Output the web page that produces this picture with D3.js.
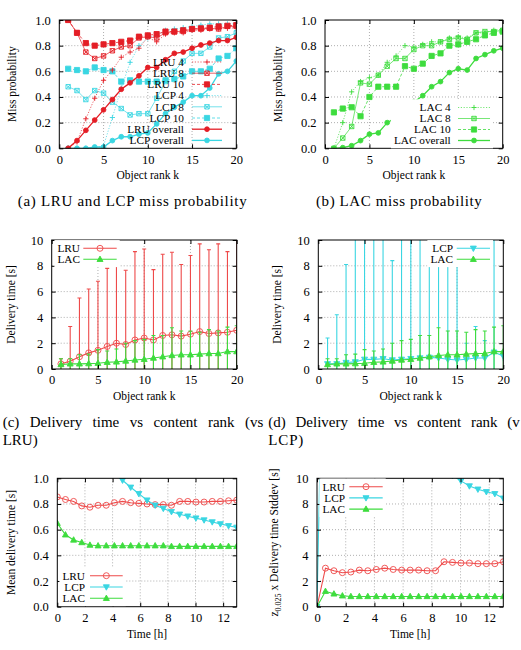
<!DOCTYPE html>
<html>
<head>
<meta charset="utf-8">
<script src="https://cdn.jsdelivr.net/npm/d3@7"></script>
<style>
  body { margin: 0; background: #fff; }
  svg { display: block; }
  text { font-family: "Liberation Serif", Tinos, "Times New Roman", Times, "DejaVu Serif", serif; fill: #000; }
</style>
</head>
<body>
<svg width="521" height="650"></svg>
<script>
// ---- data ----
const ranks = [1, 2, 3, 4, 5, 6, 7, 8, 9, 10, 11, 12, 13, 14, 15, 16, 17, 18, 19, 20];

// (a) miss probability, LRU and LCP
const lru4   = [0, 0.05, 0.23, 0.39, 0.53, 0.61, 0.71, 0.75, 0.78, 0.865, 0.83, 0.89, 0.9, 0.9, 0.92, 0.92, 0.93, 0.93, 0.935, 0.94];
const lru8   = [1.0, 0.9, 0.75, 0.70, 0.72, 0.76, 0.79, 0.80, 0.86, 0.87, 0.86, 0.90, 0.91, 0.91, 0.93, 0.93, 0.935, 0.93, 0.95, 0.95];
const lru10  = [1.0, 0.9, 0.82, 0.80, 0.81, 0.82, 0.83, 0.84, 0.87, 0.88, 0.89, 0.91, 0.91, 0.92, 0.93, 0.935, 0.94, 0.95, 0.955, 0.96];
const lruAll = [0, 0.06, 0.14, 0.22, 0.30, 0.38, 0.46, 0.51, 0.565, 0.63, 0.63, 0.69, 0.74, 0.75, 0.78, 0.805, 0.82, 0.84, 0.84, 0.865];
const lcp4   = [0, 0, 0, 0, 0.02, 0.24, 0.47, 0.67, 0.80, 0.86, 0.88, 0.92, 0.93, 0.94, 0.95, 0.96, 0.97, 0.97, 0.97, 0.97];
const lcp8   = [0.48, 0.45, 0.38, 0.45, 0.43, 0.36, 0.31, 0.26, 0.27, 0.27, 0.39, 0.52, 0.60, 0.68, 0.74, 0.74, 0.79, 0.86, 0.87, 0.90];
const lcp10  = [0.62, 0.61, 0.60, 0.63, 0.61, 0.60, 0.52, 0.53, 0.52, 0.52, 0.52, 0.53, 0.54, 0.56, 0.60, 0.60, 0.62, 0.70, 0.72, 0.78];
const lcpAll = [0, 0, 0, 0.01, 0.01, 0.06, 0.09, 0.09, 0.11, 0.12, 0.19, 0.27, 0.32, 0.36, 0.41, 0.41, 0.47, 0.58, 0.60, 0.68];

// (b) miss probability, LAC
const lac4   = [0, 0.2, 0.44, 0.52, 0.55, 0.57, 0.67, 0.72, 0.80, 0.79, 0.81, 0.83, 0.83, 0.86, 0.87, 0.86, 0.90, 0.90, 0.92, 0.93];
const lac8   = [0, 0.08, 0.17, 0.51, 0.50, 0.57, 0.64, 0.70, 0.70, 0.77, 0.80, 0.80, 0.83, 0.85, 0.86, 0.85, 0.90, 0.91, 0.91, 0.92];
const lac10  = [0.28, 0.31, 0.32, 0.25, 0.40, 0.48, 0.48, 0.48, 0.64, 0.62, 0.66, 0.72, 0.74, 0.80, 0.81, 0.83, 0.85, 0.88, 0.90, 0.91];
const lacAll = [0, 0.005, 0.02, 0.06, 0.11, 0.12, 0.20, 0.24, 0.35, 0.36, 0.41, 0.48, 0.52, 0.59, 0.62, 0.61, 0.70, 0.73, 0.76, 0.78];

// (c), (d) delivery time per rank: mean and error half-width [s]
const lruMean = [0.4, 0.6, 0.95, 1.25, 1.45, 1.75, 2.0, 1.9, 2.25, 2.4, 2.25, 2.6, 2.65, 2.55, 2.7, 2.9, 2.75, 2.8, 2.85, 3.0];
const lruErr  = [0.4, 2.7, 4.55, 4.95, 5.35, 6.05, 6.3, 5.75, 6.85, 6.9, 5.45, 6.3, 6.4, 5.55, 6.1, 6.8, 6.5, 6.9, 6.25, 7.5];
const lacMean = [0.35, 0.4, 0.4, 0.42, 0.45, 0.52, 0.55, 0.62, 0.7, 0.75, 0.85, 0.95, 1.05, 1.1, 1.1, 1.15, 1.2, 1.2, 1.35, 1.35];
const lacErr  = [0.45, 0.4, 0.7, 0.73, 1.05, 0.88, 1.0, 1.38, 1.5, 1.55, 1.75, 1.65, 2.15, 1.85, 1.85, 1.7, 1.85, 1.75, 1.9, 2.0];
const lcpMean = [0.4, 0.4, 0.5, 0.55, 0.75, 0.75, 0.8, 0.7, 0.75, 0.8, 0.85, 0.9, 0.85, 0.75, 0.7, 0.75, 0.85, 0.85, 1.3, 1.0];
const lcpErr  = [2.0, 3.8, 7.6, 12, 12, 12, 12, 7.7, 12, 12, 12, 12, 12, 12, 12, 1.25, 2.45, 1.35, 12, 0.4];

// (e), (f) over time [h]
const times   = [0, 0.59, 1.18, 1.77, 2.36, 2.95, 3.54, 4.13, 4.72, 5.31, 5.9, 6.49, 7.08, 7.67, 8.26, 8.85, 9.44, 10.03, 10.62, 11.21, 11.8, 12.39, 12.98];
const lruT    = [0.855, 0.835, 0.82, 0.785, 0.775, 0.79, 0.79, 0.81, 0.82, 0.81, 0.805, 0.80, 0.795, 0.795, 0.79, 0.82, 0.82, 0.815, 0.815, 0.82, 0.82, 0.825, 0.83];
const lcpT    = [1.9, 1.7, 1.5, 1.35, 1.22, 1.12, 1.06, 1.03, 0.985, 0.93, 0.88, 0.83, 0.79, 0.765, 0.74, 0.72, 0.705, 0.69, 0.675, 0.66, 0.645, 0.63, 0.618];
const lacT    = [0.65, 0.56, 0.52, 0.50, 0.48, 0.475, 0.475, 0.475, 0.475, 0.475, 0.475, 0.475, 0.475, 0.475, 0.47, 0.47, 0.47, 0.47, 0.47, 0.47, 0.47, 0.47, 0.47];
const lruSd   = [0, 3.0, 2.8, 2.65, 2.7, 2.85, 2.8, 2.9, 3.0, 2.9, 2.85, 2.85, 2.85, 2.8, 2.8, 3.5, 3.45, 3.4, 3.4, 3.35, 3.35, 3.35, 3.5];
const lcpSd   = [0, 32, 26, 22, 19, 17, 15.5, 14.5, 13.6, 13, 12.4, 11.9, 11.5, 11.1, 10.8, 10.5, 10.2, 9.8, 9.4, 9.15, 8.95, 8.8, 8.45];
const lacSd   = [0, 1.2, 1.0, 0.85, 0.8, 0.8, 0.8, 0.8, 0.8, 0.8, 0.8, 0.8, 0.8, 0.8, 0.8, 0.8, 0.8, 0.8, 0.8, 0.8, 0.8, 0.8, 0.8];

const probTicks = [0, 0.2, 0.4, 0.6, 0.8, 1];
const rankTicks = [0, 5, 10, 15, 20];
const secTicks  = [0, 2, 4, 6, 8, 10];
const hourTicks = [0, 2, 4, 6, 8, 10, 12];

// ---- styles ----
const serif = '"Liberation Serif", Tinos, "Times New Roman", Times, "DejaVu Serif", serif';
const red = '#e41e26', lred = '#ee4a4a', cyan = '#3ad6e2', green = '#3edc3e';

const marks = {
  plus:  { d: 'M-2.6,0H2.6M0,-2.6V2.6', fill: false },
  boxx:  { d: 'M-2.2,-2.2H2.2V2.2H-2.2ZM-2.2,-2.2L2.2,2.2M-2.2,2.2L2.2,-2.2', fill: false },
  sq:    { d: 'M-2.6,-2.6H2.6V2.6H-2.6Z', fill: true },
  dot:   { d: 'M2.4,0A2.4,2.4 0 1,1 -2.4,0A2.4,2.4 0 1,1 2.4,0Z', fill: true },
  ocirc: { d: 'M3,0A3,3 0 1,1 -3,0A3,3 0 1,1 3,0Z', fill: false },
  up:    { d: 'M0,-3.2L3,2.2H-3Z', fill: true },
  down:  { d: 'M0,3.2L3,-2.2H-3Z', fill: true }
};

const svg = d3.select('svg');
let clipId = 0;

function panel(box, xDom, yDom, xTicks, yTicks, xTitle, yTitle, yTitleX) {
  const x = d3.scaleLinear().domain(xDom).range([box.x0, box.x1]);
  const y = d3.scaleLinear().domain(yDom).range([box.y1, box.y0]);
  const g = svg.append('g');
  const eps = 1e-6;

  // dotted grid
  const grid = g.append('g').attr('stroke', '#9a9a9a').attr('stroke-width', 0.8).attr('stroke-dasharray', '1,2');
  grid.selectAll('line.gx').data(xTicks.filter(t => t > xDom[0] + eps && t < xDom[1] - eps)).enter().append('line')
    .attr('x1', d => x(d)).attr('x2', d => x(d)).attr('y1', box.y0).attr('y2', box.y1);
  grid.selectAll('line.gy').data(yTicks.filter(t => t > yDom[0] + eps && t < yDom[1] - eps)).enter().append('line')
    .attr('x1', box.x0).attr('x2', box.x1).attr('y1', d => y(d)).attr('y2', d => y(d));

  const id = 'clip' + (clipId++);
  svg.append('clipPath').attr('id', id).append('rect')
    .attr('x', box.x0).attr('y', box.y0).attr('width', box.x1 - box.x0).attr('height', box.y1 - box.y0);
  const plot = g.append('g').attr('clip-path', `url(#${id})`);
  const top = g.append('g');

  // axes with inward ticks, mirrored on top and right
  const fixAxis = a => {
    a.attr('font-size', 12.5).attr('font-family', serif);
    a.select('.domain').remove();
  };
  top.append('g').attr('transform', `translate(0,${box.y1})`)
    .call(d3.axisBottom(x).tickValues(xTicks).tickSize(-4).tickSizeOuter(0).tickPadding(6.5)).call(fixAxis);
  top.append('g').attr('transform', `translate(0,${box.y0})`)
    .call(d3.axisTop(x).tickValues(xTicks).tickSize(-4).tickSizeOuter(0).tickFormat('')).call(fixAxis);
  top.append('g').attr('transform', `translate(${box.x0},0)`)
    .call(d3.axisLeft(y).tickValues(yTicks).tickSize(-4).tickSizeOuter(0).tickPadding(8.5)).call(fixAxis);
  top.append('g').attr('transform', `translate(${box.x1},0)`)
    .call(d3.axisRight(y).tickValues(yTicks).tickSize(-4).tickSizeOuter(0).tickFormat('')).call(fixAxis);

  top.append('rect').attr('x', box.x0).attr('y', box.y0)
    .attr('width', box.x1 - box.x0).attr('height', box.y1 - box.y0)
    .attr('fill', 'none').attr('stroke', '#000').attr('stroke-width', 1);

  top.append('text').attr('x', (box.x0 + box.x1) / 2).attr('y', box.y1 + 31)
    .attr('text-anchor', 'middle').attr('font-size', 11.5).text(xTitle);
  const yt = top.append('text')
    .attr('transform', `translate(${yTitleX},${(box.y0 + box.y1) / 2}) rotate(-90)`)
    .attr('text-anchor', 'middle').attr('font-size', 11.5);
  if (typeof yTitle === 'string') yt.text(yTitle);
  else yTitle(yt);

  return { x, y, plot, top };
}

function drawMarks(g, pts, st) {
  const m = marks[st.mark];
  g.selectAll(null).data(pts).enter().append('path')
    .attr('transform', d => `translate(${d[0]},${d[1]})`)
    .attr('d', m.d)
    .attr('fill', m.fill ? st.color : 'none')
    .attr('stroke', st.color).attr('stroke-width', 0.9);
}

function series(p, xs, ys, st) {
  const pts = xs.map((v, i) => [p.x(v), p.y(ys[i])]);
  p.plot.append('path').datum(pts)
    .attr('d', d3.line())
    .attr('fill', 'none').attr('stroke', st.color)
    .attr('stroke-width', st.width).attr('stroke-dasharray', st.dash || null);
  drawMarks(p.plot, pts, st);
}

function errorBars(p, xs, mean, err, color) {
  const g = p.plot.append('g').attr('stroke', color).attr('stroke-width', 1.1);
  xs.forEach((v, i) => {
    const cx = p.x(v), lo = p.y(mean[i] - err[i]), hi = p.y(mean[i] + err[i]);
    g.append('line').attr('x1', cx).attr('x2', cx).attr('y1', lo).attr('y2', hi);
    g.append('line').attr('x1', cx - 2).attr('x2', cx + 2).attr('y1', hi).attr('y2', hi);
  });
}

function legend(p, items, o) {
  const g = p.top.append('g');
  items.forEach((st, i) => {
    const cy = o.y + i * o.dy;
    g.append('text').attr('x', o.tx).attr('y', cy + 3.8)
      .attr('text-anchor', 'end').attr('font-size', 11.3).text(st.name);
    g.append('line').attr('x1', o.s0).attr('x2', o.s1).attr('y1', cy).attr('y2', cy)
      .attr('stroke', st.color).attr('stroke-width', st.width).attr('stroke-dasharray', st.dash || null);
    drawMarks(g, [[(o.s0 + o.s1) / 2, cy]], st);
  });
  if (o.opaque) {
    const b = g.node().getBBox();
    g.insert('rect', ':first-child')
      .attr('x', b.x - 3).attr('y', b.y - 2).attr('width', b.width + 6).attr('height', b.height + 4)
      .attr('fill', '#fff');
  }
}

// ---- (a) LRU and LCP miss probability ----
const sA = {
  lru4:   { name: 'LRU 4',       color: red,  width: 0.7, dash: '1.2,1.6', mark: 'plus' },
  lru8:   { name: 'LRU 8',       color: red,  width: 0.7, mark: 'boxx' },
  lru10:  { name: 'LRU 10',      color: red,  width: 0.8, dash: '3,2', mark: 'sq' },
  lcp4:   { name: 'LCP 4',       color: cyan, width: 0.7, dash: '1.2,1.6', mark: 'plus' },
  lcp8:   { name: 'LCP 8',       color: cyan, width: 0.7, mark: 'boxx' },
  lcp10:  { name: 'LCP 10',      color: cyan, width: 0.8, dash: '3,2', mark: 'sq' },
  lruAll: { name: 'LRU overall', color: red,  width: 1.3, mark: 'dot' },
  lcpAll: { name: 'LCP overall', color: cyan, width: 1.3, mark: 'dot' }
};
const pa = panel({ x0: 59.3, x1: 236.3, y0: 20, y1: 148.3 }, [0, 20], [0, 1], rankTicks, probTicks,
  'Object rank k', 'Miss probability', 15.5);
series(pa, ranks, lcp4, sA.lcp4);
series(pa, ranks, lcp8, sA.lcp8);
series(pa, ranks, lcp10, sA.lcp10);
series(pa, ranks, lcpAll, sA.lcpAll);
series(pa, ranks, lru4, sA.lru4);
series(pa, ranks, lru8, sA.lru8);
series(pa, ranks, lru10, sA.lru10);
series(pa, ranks, lruAll, sA.lruAll);
legend(pa, [sA.lru4, sA.lru8, sA.lru10, sA.lcp4, sA.lcp8, sA.lcp10, sA.lruAll, sA.lcpAll],
  { tx: 184, s0: 192, s1: 222, y: 62, dy: 11.2, opaque: false });

// ---- (b) LAC miss probability ----
const sB = {
  lac4:   { name: 'LAC 4',       color: green, width: 0.7, dash: '1.2,1.6', mark: 'plus' },
  lac8:   { name: 'LAC 8',       color: green, width: 0.7, mark: 'boxx' },
  lac10:  { name: 'LAC 10',      color: green, width: 0.8, dash: '3,2', mark: 'sq' },
  lacAll: { name: 'LAC overall', color: green, width: 1.3, mark: 'dot' }
};
const pb = panel({ x0: 325, x1: 502.7, y0: 20, y1: 148.3 }, [0, 20], [0, 1], rankTicks, probTicks,
  'Object rank k', 'Miss probability', 282);
series(pb, ranks, lac4, sB.lac4);
series(pb, ranks, lac8, sB.lac8);
series(pb, ranks, lac10, sB.lac10);
series(pb, ranks, lacAll, sB.lacAll);
legend(pb, [sB.lac4, sB.lac8, sB.lac10, sB.lacAll],
  { tx: 450.7, s0: 458, s1: 490, y: 107.5, dy: 11, opaque: true });

// ---- (c) delivery time vs rank, LRU ----
const sLRU = { name: 'LRU', color: lred, width: 1.1, mark: 'ocirc' };
const sLCP = { name: 'LCP', color: cyan, width: 1.1, mark: 'down' };
const sLAC = { name: 'LAC', color: green, width: 1.1, mark: 'up' };

const pc = panel({ x0: 51.7, x1: 236.7, y0: 240, y1: 369 }, [0, 20], [0, 10], rankTicks, secTicks,
  'Object rank k', 'Delivery time [s]', 15);
errorBars(pc, ranks, lruMean, lruErr, lred);
series(pc, ranks, lruMean, sLRU);
errorBars(pc, ranks, lacMean, lacErr, green);
series(pc, ranks, lacMean, sLAC);
legend(pc, [sLRU, sLAC], { tx: 80, s0: 83.3, s1: 116.7, y: 248.3, dy: 11, opaque: true });

// ---- (d) delivery time vs rank, LCP ----
const pd = panel({ x0: 318.3, x1: 503.3, y0: 240, y1: 369 }, [0, 20], [0, 10], rankTicks, secTicks,
  'Object rank k', 'Delivery time [s]', 281);
errorBars(pd, ranks, lcpMean, lcpErr, cyan);
series(pd, ranks, lcpMean, sLCP);
errorBars(pd, ranks, lacMean, lacErr, green);
series(pd, ranks, lacMean, sLAC);
legend(pd, [sLCP, sLAC], { tx: 453, s0: 456.7, s1: 490, y: 248.3, dy: 11, opaque: true });

// ---- (e) mean delivery time over time ----
const pe = panel({ x0: 57.3, x1: 236.7, y0: 478.3, y1: 606.7 }, d3.extent(times), [0, 1], hourTicks, probTicks,
  'Time [h]', 'Mean delivery time [s]', 15);
series(pe, times, lruT, sLRU);
series(pe, times, lcpT, sLCP);
series(pe, times, lacT, sLAC);
legend(pe, [sLRU, sLCP, sLAC], { tx: 85, s0: 90, s1: 122.7, y: 575.7, dy: 11.3, opaque: true });

// ---- (f) z * stddev of delivery time over time ----
const pf = panel({ x0: 317, x1: 503.3, y0: 478.3, y1: 606.7 }, d3.extent(times), [0, 10], hourTicks, secTicks,
  'Time [h]', t => {
    t.append('tspan').text('z');
    t.append('tspan').attr('font-size', 8).attr('dy', 3).text('0.025');
    t.append('tspan').attr('dy', -3).text(' x Delivery time Stddev [s]');
  }, 278);
series(pf, times, lruSd, sLRU);
series(pf, times, lcpSd, sLCP);
series(pf, times, lacSd, sLAC);
legend(pf, [sLRU, sLCP, sLAC], { tx: 345, s0: 349.3, s1: 382.7, y: 486.7, dy: 11.2, opaque: true });

// ---- captions ----
const capSize = 15;
function caption(str, x, y, width) {
  svg.append('text').attr('x', x).attr('y', y).attr('font-size', capSize)
    .attr('textLength', width).attr('lengthAdjust', 'spacing').text(str);
}
function justified(str, x, y, width) {
  const words = str.split(' ');
  const t = words.map(w => svg.append('text').attr('y', y).attr('font-size', capSize).text(w));
  const ws = t.map(s => s.node().getComputedTextLength());
  const gap = (width - d3.sum(ws)) / (words.length - 1);
  let cx = x;
  t.forEach((s, i) => { s.attr('x', cx); cx += ws[i] + gap; });
}
caption('(a) LRU and LCP miss probability', 17.7, 206, 229);
caption('(b) LAC miss probability', 316, 206, 165.7);
justified('(c) Delivery time vs content rank (vs', 2.7, 426.5, 260.6);
caption('LRU)', 2.7, 444.5, 35);
justified('(d) Delivery time vs content rank (v', 268.3, 426.5, 251.5);
caption('LCP)', 268.3, 444.5, 35);
</script>
</body>
</html>
